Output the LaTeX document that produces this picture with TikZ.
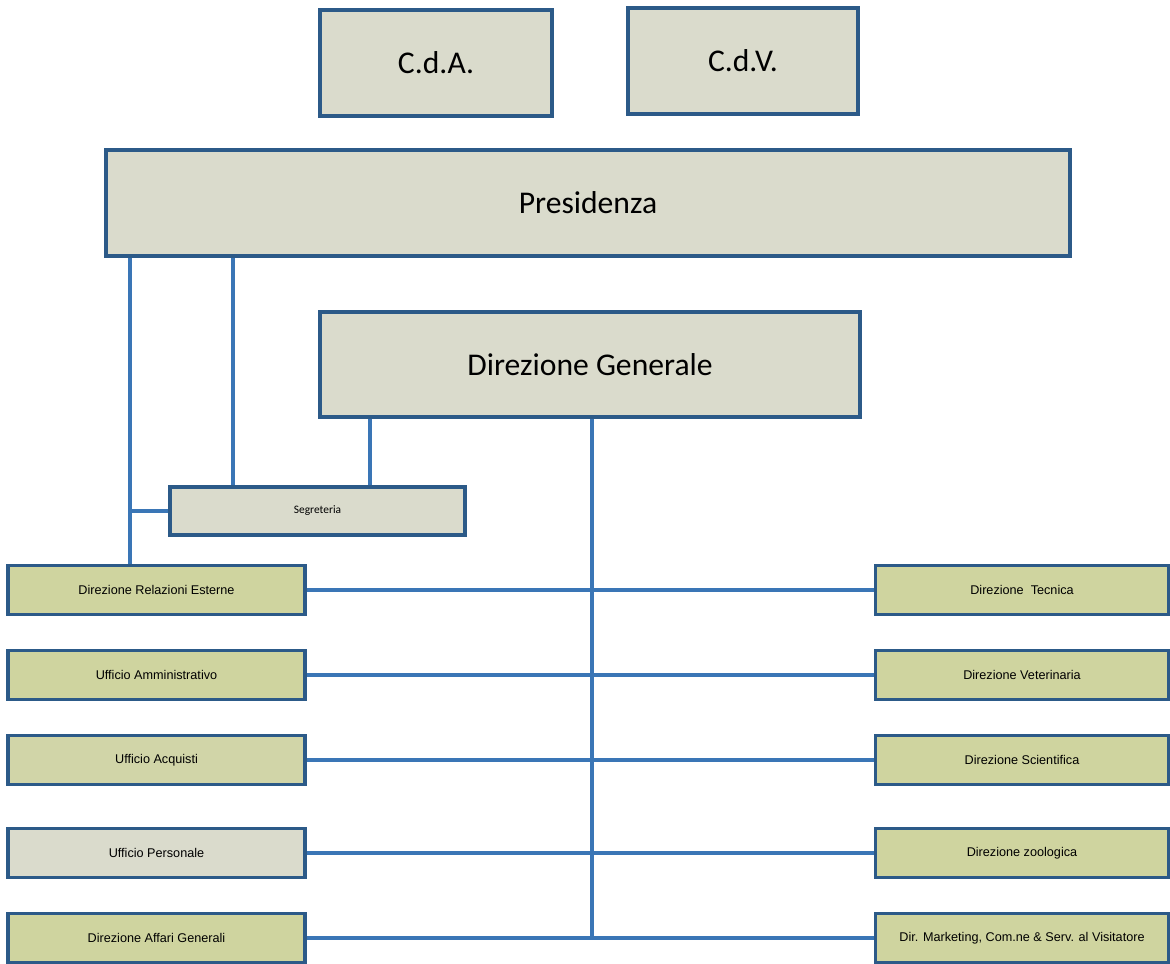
\documentclass[tikz,border=0pt]{standalone}
\usepackage{fontspec}
\setmainfont{Carlito}
\newfontfamily\arialf{Liberation Sans}
\usepackage{tikz}
\usetikzlibrary{positioning,calc}

\definecolor{boxline}{HTML}{2C5A88}
\definecolor{linkblue}{HTML}{3A76B6}
\definecolor{greyfill}{HTML}{DADBCC}
\definecolor{greenfill}{HTML}{CFD49F}

\begin{document}
\begin{tikzpicture}[
  every node/.style={font=\small},
  top/.style  ={draw=boxline, line width=2.2pt, fill=greyfill, align=center,
                minimum height=2.12cm, font=\fontsize{18}{20}\selectfont},
  seg/.style  ={draw=boxline, line width=2.2pt, fill=greyfill, align=center,
                minimum width=5.9cm, minimum height=0.96cm, font=\fontsize{6.5}{7}\selectfont},
  unit/.style ={draw=boxline, line width=2.2pt, fill=greenfill, align=center,
                minimum height=0.98cm, font=\arialf\fontsize{7.2}{8}\selectfont},
  lft/.style  ={unit, minimum width=5.94cm},
  rgt/.style  ={unit, minimum width=5.86cm},
  link/.style ={draw=linkblue, line width=2pt}]

\useasboundingbox (0,0) rectangle (23.4,-19.28);

%% ── Boards ───────────────────────────────────────────────────────
\node[top, minimum width=4.64cm] (cda) at (8.72, -1.26) {C.d.A.};
\node[top, minimum width=4.60cm] (cdv) at (14.86,-1.22) {C.d.V.};

%% ── Presidenza and Direzione Generale ───────────────────────────
\node[top, minimum width=19.28cm] (pres) at (11.76,-4.06) {Presidenza};
\node[top, minimum width=10.8cm, minimum height=2.1cm] (dg) at (11.80,-7.29) {Direzione Generale};

\node[seg] (segr) at (6.35,-10.22) {Segreteria};

%% ── Left column ──────────────────────────────────────────────────
\node[lft] (rel)  at (3.13,-11.80) {Direzione Relazioni Esterne};
\node[lft] (amm)  at (3.13,-13.50) {Ufficio Amministrativo};
\node[lft, fill=greenfill!80!greyfill] (acq)  at (3.13,-15.20) {Ufficio Acquisti};
\node[lft, fill=greyfill] (pers) at (3.13,-17.06) {Ufficio Personale};
\node[lft] (aff)  at (3.13,-18.76) {Direzione Affari Generali};

%% ── Right column ─────────────────────────────────────────────────
\node[rgt] (tec)  at (20.44,-11.80) {Direzione\ \ Tecnica};
\node[rgt] (vet)  at (20.44,-13.50) {Direzione Veterinaria};
\node[rgt] (sci)  at (20.44,-15.20) {Direzione Scientifica};
\node[rgt] (zoo)  at (20.44,-17.06) {Direzione zoologica};
\node[rgt] (mkt)  at (20.44,-18.76) {Dir. Marketing, Com.ne \& Serv. al Visitatore};

%% ── Tap points on the long boxes ────────────────────────────────
\coordinate (tapA) at (2.60,0);
\coordinate (tapB) at (4.66,0);
\coordinate (tapC) at (7.40,0);
\coordinate (tapD) at (11.84,0);

%% ── Presidenza → Segreteria / Relazioni Esterne ─────────────────
\draw[link] (pres.south -| tapA) -- (rel.north -| tapA);
\draw[link] (segr.west) -- (segr.west -| tapA);
\draw[link] (pres.south -| tapB) -- (segr.north -| tapB);

%% ── Direzione Generale → Segreteria and trunk ───────────────────
\draw[link] (dg.south -| tapC) -- (segr.north -| tapC);
\draw[link] (dg.south -| tapD) -- (aff.east -| tapD);

%% ── Rows across the trunk ───────────────────────────────────────
\foreach \l/\r in {rel/tec, amm/vet, acq/sci, pers/zoo, aff/mkt}
  \draw[link] (\l.east) -- (\r.west);
\end{tikzpicture}
\end{document}
